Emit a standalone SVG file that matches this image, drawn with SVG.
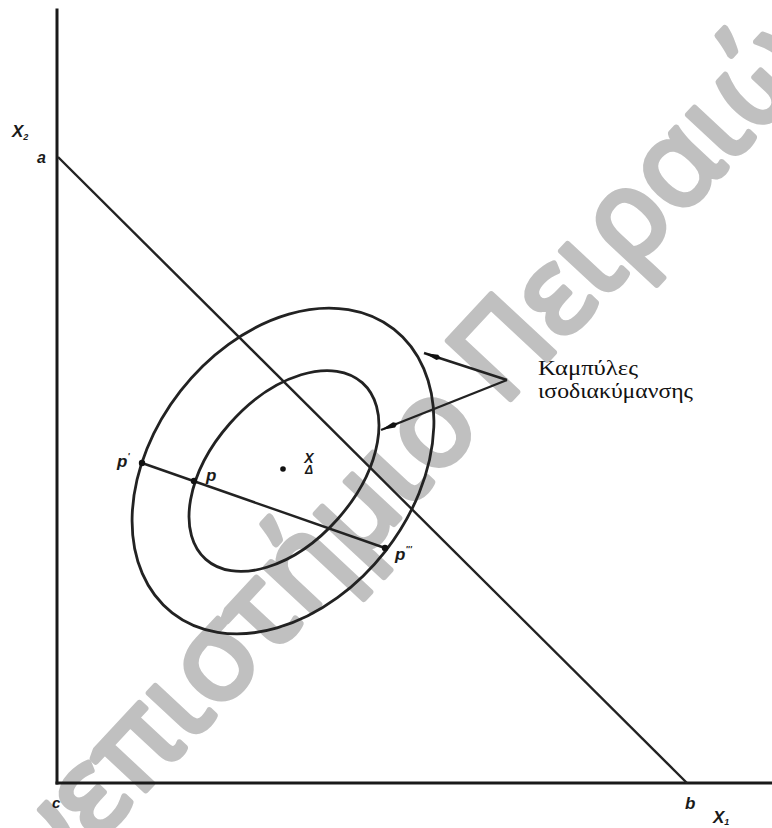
<svg xmlns="http://www.w3.org/2000/svg" width="772" height="828" viewBox="0 0 772 828">
<style>
.ax{stroke:#1a1a1a;stroke-width:3;fill:none;stroke-linecap:square}
.ln{stroke:#222;stroke-width:2.4;fill:none}
.el{stroke:#222;stroke-width:2.8;fill:none}
.lb{font-family:"Liberation Sans",Arial,sans-serif;font-weight:bold;font-style:italic;fill:#1a1a1a}
.gr{font-family:"Liberation Serif","Times New Roman",serif;font-size:21px;fill:#111}
.wm{font-family:"Open Sans","Noto Sans",sans-serif;font-size:120px;fill:#c0c0c0;stroke:#c0c0c0;stroke-width:6;stroke-linejoin:round}
</style>
<defs>
<marker id="ah" viewBox="0 0 18 8" refX="18" refY="4" markerWidth="18" markerHeight="8" markerUnits="userSpaceOnUse" orient="auto">
<path d="M0,4 L4,1.2 L18,4 L4,6.8 Z" fill="#111"/>
</marker>
</defs>
<rect width="772" height="828" fill="#fff"/>
<g id="watermark">
<text class="wm" transform="translate(493,418) rotate(-47)"><tspan x="-14" y="0" text-anchor="end">Πανεπιστήμιο</tspan><tspan x="14" y="0" text-anchor="start">Πειραιώς</tspan></text>
</g>
<g id="axes">
<line class="ax" x1="57" y1="10" x2="57" y2="783"/>
<line class="ax" x1="57" y1="783" x2="772" y2="783"/>
</g>
<g id="budget-line">
<line class="ln" x1="58" y1="157" x2="687" y2="783"/>
</g>
<g id="outer-curve">
<ellipse class="el" cx="283" cy="471" rx="180" ry="130" transform="rotate(-52 283 471)"/>
</g>
<g id="inner-curve">
<ellipse class="el" cx="284" cy="471" rx="118" ry="72" transform="rotate(-48.5 284 471)"/>
</g>
<g id="chord">
<line class="ln" x1="142" y1="463" x2="385" y2="548"/>
<circle cx="142" cy="463" r="3.2" fill="#111"/>
<circle cx="194" cy="481" r="3.2" fill="#111"/>
<circle cx="385" cy="548" r="3.2" fill="#111"/>
</g>
<g id="center">
<circle cx="283" cy="469" r="2.8" fill="#111"/>
<text class="lb" x="309" y="463" font-size="14" text-anchor="middle">X<tspan x="309" y="474" font-size="12">Δ</tspan></text>
</g>
<g id="labels">
<text class="lb" x="12" y="137" font-size="17">X<tspan font-size="9" dy="3">2</tspan></text>
<text class="lb" x="37" y="163" font-size="16">a</text>
<text class="lb" x="52" y="808" font-size="15">c</text>
<text class="lb" x="685" y="809" font-size="17">b</text>
<text class="lb" x="713" y="823" font-size="17">X<tspan font-size="9" dy="2">1</tspan></text>
<text class="lb" x="117" y="467" font-size="17">p<tspan font-size="9" dy="-8">'</tspan></text>
<text class="lb" x="206" y="481" font-size="17">p</text>
<text class="lb" x="395" y="560" font-size="17">p<tspan font-size="9" dy="-8">'''</tspan></text>
</g>
<g id="callout">
<text class="gr" x="538" y="375" textLength="100" lengthAdjust="spacingAndGlyphs">Καμπύλες</text>
<text class="gr" x="538" y="398" textLength="155" lengthAdjust="spacingAndGlyphs">ισοδιακύμανσης</text>
</g>
<g id="connectors">
<line class="ln" x1="507" y1="380" x2="424" y2="353" stroke-width="2" marker-end="url(#ah)"/>
<line class="ln" x1="507" y1="380" x2="381" y2="430" stroke-width="2" marker-end="url(#ah)"/>
</g>
</svg>
